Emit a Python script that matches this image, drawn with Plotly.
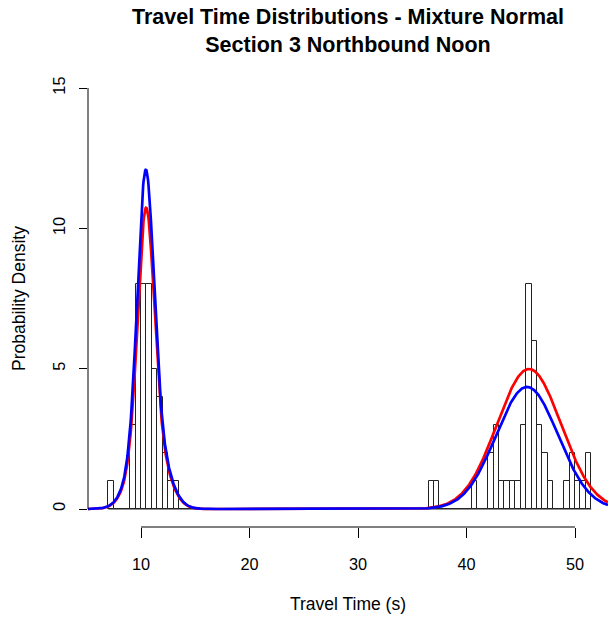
import numpy as np
import plotly.graph_objects as go

# ---------------- data ----------------
hist_start = 7.0      # left edge of first histogram bin (s)
bin_width = 0.5       # histogram bin width (s)
counts = [
    1, 0, 0, 0, 3, 8, 8, 8, 5, 4, 2, 1, 1,            # 7.0 - 13.5
    0, 0, 0, 0, 0, 0, 0, 0, 0, 0, 0, 0, 0, 0, 0, 0,   # 13.5 - 21.5
    0, 0, 0, 0, 0, 0, 0, 0, 0, 0, 0, 0, 0, 0, 0, 0,   # 21.5 - 29.5
    0, 0, 0, 0, 0, 0, 0, 0, 0, 0, 0, 0, 0, 0,         # 29.5 - 36.5
    1, 1, 0, 0, 0, 0, 0, 0, 1, 0, 0,                  # 36.5 - 42.0
    2, 3, 1, 1, 1, 1, 3, 8, 6, 3, 2, 1, 0, 0,         # 42.0 - 49.0
    1, 2, 1, 1, 2,                                    # 49.0 - 51.5
]

# fitted mixture-normal components (mean, sd, peak height) per curve
red_means = [10.45, 10.7, 45.76]
red_sds = [0.72, 1.4, 2.95]
red_peaks = [7.68, 3.1, 4.99]

blue_means = [10.42, 10.7, 45.58]
blue_sds = [0.72, 1.4, 2.85]
blue_peaks = [8.75, 3.4, 4.35]

x_ticks = [10, 20, 30, 40, 50]
y_ticks = [0, 5, 10, 15]

title_text = "Travel Time Distributions - Mixture Normal<br>Section 3 Northbound Noon"
x_title = "Travel Time (s)"
y_title = "Probability Density"

# ---------------- build ----------------
FONT = "Liberation Sans, Arial, sans-serif"
counts_arr = np.array(counts, dtype=float)
centers = hist_start + bin_width * (np.arange(len(counts_arr)) + 0.5)
hist_end = hist_start + bin_width * len(counts_arr)

x_range = [5.115, 53.04]
xs = np.linspace(x_range[0], x_range[1], 1500)


def mixture(means, sds, peaks):
    y = np.zeros_like(xs)
    for m, s, p in zip(means, sds, peaks):
        y += p * np.exp(-0.5 * ((xs - m) / s) ** 2)
    return y


fig = go.Figure()

# zero-height bins drawn by R as a line along the baseline
fig.add_trace(go.Scatter(
    x=[hist_start, hist_end], y=[0, 0], mode="lines",
    line=dict(color="#222222", width=1), showlegend=False, hoverinfo="skip"))

fig.add_trace(go.Bar(
    x=centers, y=counts_arr, width=bin_width,
    marker=dict(color="rgba(0,0,0,0)", line=dict(color="#222222", width=1)),
    showlegend=False))

fig.add_trace(go.Scatter(
    x=xs, y=mixture(red_means, red_sds, red_peaks), mode="lines",
    line=dict(color="#FF0000", width=2.7), showlegend=False))
fig.add_trace(go.Scatter(
    x=xs, y=mixture(blue_means, blue_sds, blue_peaks), mode="lines",
    line=dict(color="#0000FF", width=2.7), showlegend=False))

# R-style axis lines spanning only the tick range
fig.add_shape(type="line", xref="x", yref="paper",
              x0=x_ticks[0], x1=x_ticks[-1], y0=0, y1=0,
              line=dict(color="black", width=1))
fig.add_shape(type="line", xref="paper", yref="y",
              x0=0, x1=0, y0=y_ticks[0], y1=y_ticks[-1],
              line=dict(color="black", width=1))

fig.add_annotation(text=x_title, xref="paper", yref="paper",
                   x=0.5, y=(527 - 604) / 456, xanchor="center", yanchor="middle",
                   showarrow=False, font=dict(family=FONT, size=17.5, color="black"))
fig.add_annotation(text=y_title, xref="paper", yref="paper",
                   x=(19 - 88) / 520, y=0.5, xanchor="center", yanchor="middle",
                   textangle=-90, showarrow=False,
                   font=dict(family=FONT, size=17.5, color="black"))

fig.update_layout(
    width=609, height=617,
    margin=dict(l=88, r=1, t=71, b=90, pad=0),
    paper_bgcolor="white", plot_bgcolor="white",
    font=dict(family=FONT, size=16, color="black"),
    title=dict(text="<b>" + title_text + "</b>", x=0.5, xref="paper",
               xanchor="center", y=1 - 24 / 617, yref="container",
               yanchor="middle", font=dict(family=FONT, size=21.5, color="black")),
    bargap=0, showlegend=False,
    xaxis=dict(range=x_range, tickvals=x_ticks, ticks="outside", ticklen=10,
               tickcolor="black", tickwidth=1, showgrid=False, zeroline=False,
               showline=False, ticklabelstandoff=12,
               tickfont=dict(family=FONT, size=16.3, color="black")),
    yaxis=dict(range=[-0.641, 15.606], tickvals=y_ticks, ticks="outside", ticklen=8,
               tickcolor="black", tickwidth=1, showgrid=False, zeroline=False,
               showline=False, tickangle=-90, ticklabelstandoff=7,
               tickfont=dict(family=FONT, size=16.3, color="black")),
)

fig.write_html("out.html")
